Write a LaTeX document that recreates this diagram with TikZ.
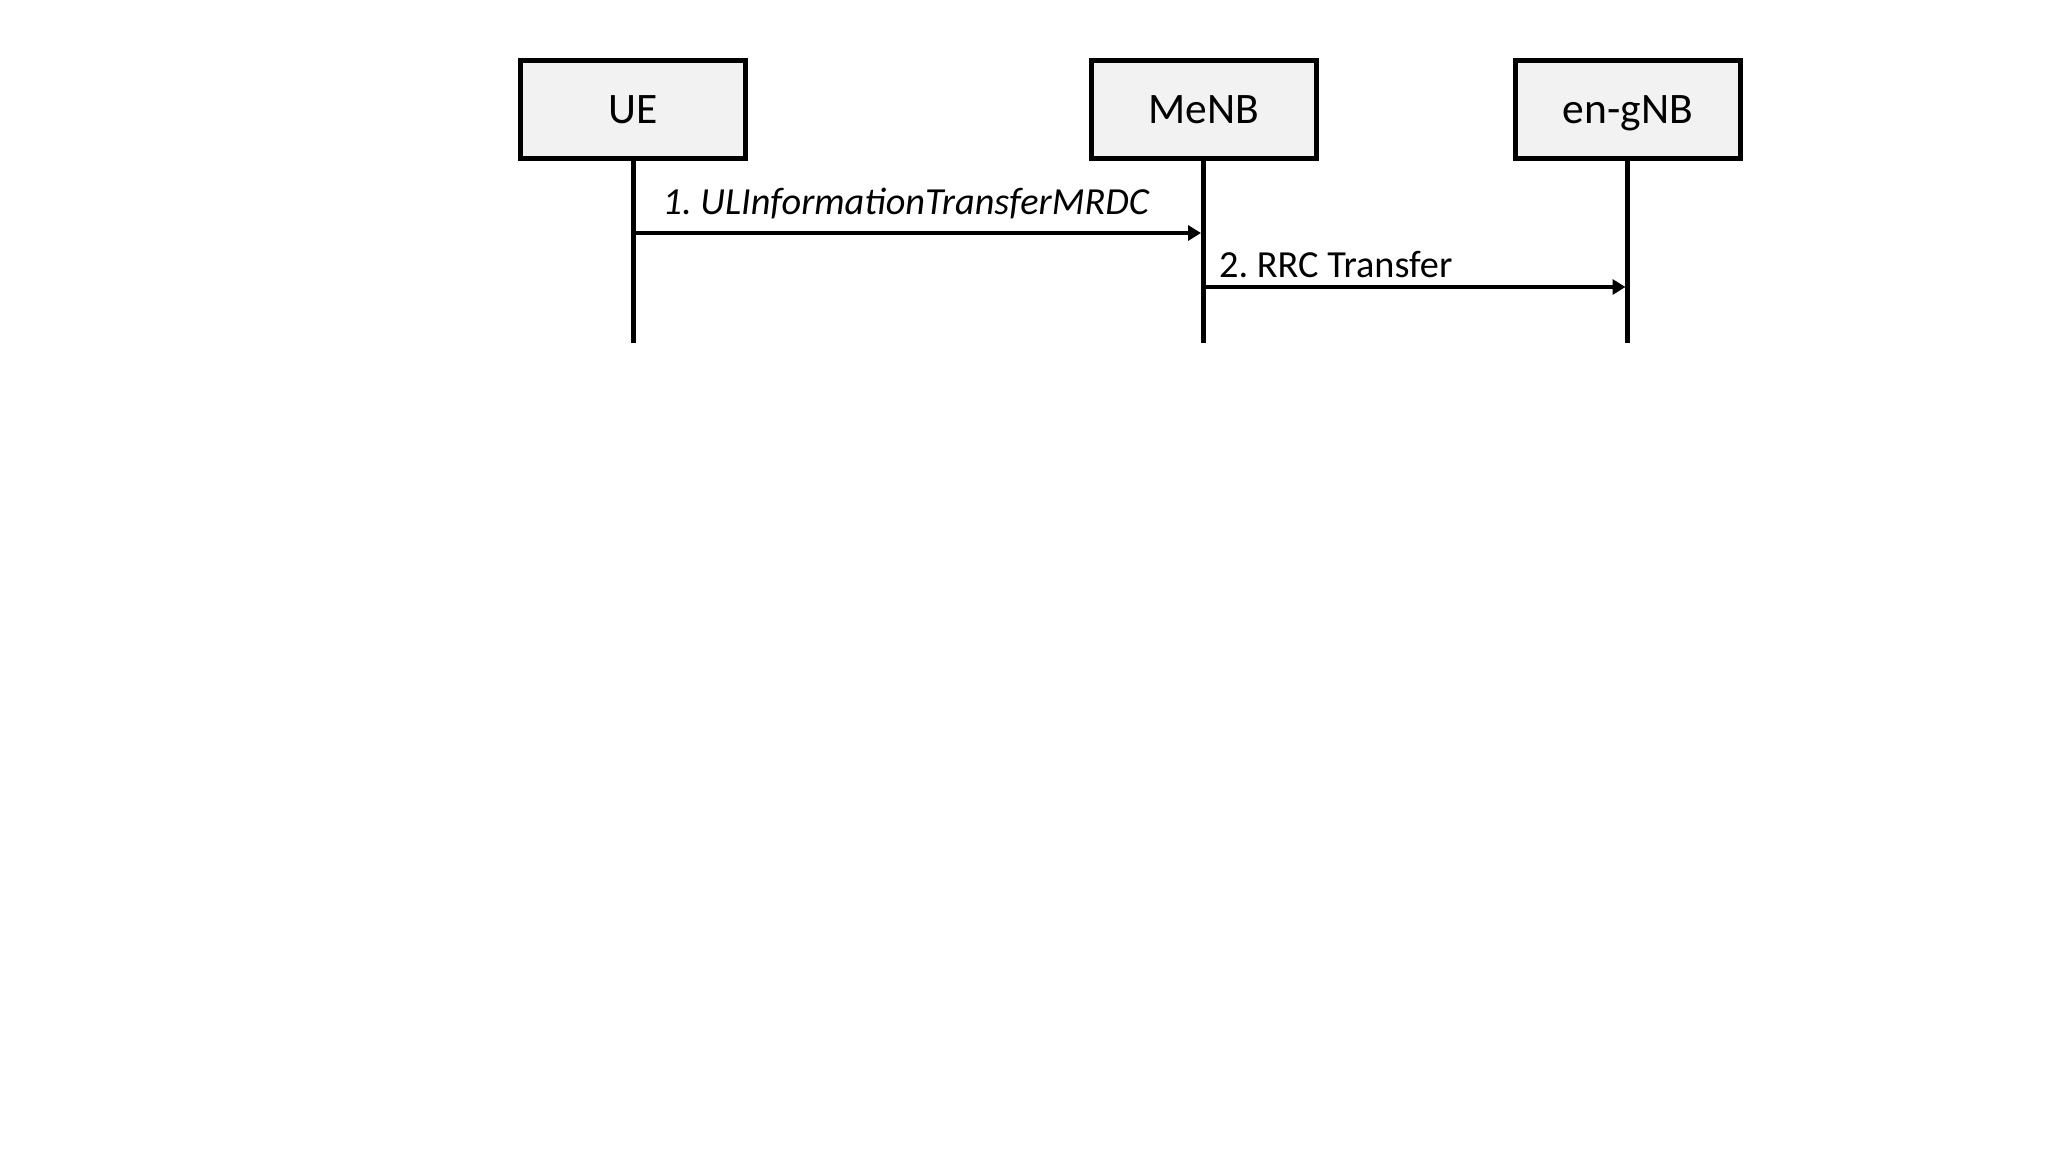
\documentclass[tikz,border=0pt]{standalone}
\usepackage{fontspec}
\setmainfont{Carlito}
\usetikzlibrary{arrows.meta}
\definecolor{boxfill}{HTML}{F2F2F2}
\tikzset{
  entity/.style={draw=black, fill=boxfill, line width=5bp, minimum width=225bp, minimum height=98bp,
    inner sep=0pt, font=\fontsize{43.5bp}{52bp}\selectfont, text height=28bp, text depth=0pt},
  lifeline/.style={line width=5bp},
  msg/.style={line width=4bp, -{Triangle[length=13bp,width=15bp]}},
  msglabel/.style={anchor=base west, inner sep=0pt, font=\fontsize{38.3bp}{46bp}\selectfont}
}
\frenchspacing
\begin{document}
\begin{tikzpicture}[x=1bp,y=-1bp]
\useasboundingbox (0,0) rectangle (2048,1153);
\node[entity] (ue) at (633,109.5) {UE};
\node[entity] (menb) at (1203.5,109.5) {MeNB};
\node[entity] (gnb) at (1627.7,109.5) {en-gNB};
\coordinate (ueend) at (633,343);
\coordinate (menbend) at (1203.5,343);
\coordinate (gnbend) at (1627.7,343);
\draw[lifeline] (ue.south) -- (ueend);
\draw[lifeline] (menb.south) -- (menbend);
\draw[lifeline] (gnb.south) -- (gnbend);
\coordinate (m1s) at (633,233);
\coordinate (m1e) at (1201,233);
\coordinate (m2s) at (1203.5,287);
\coordinate (m2e) at (1625.5,287);
\draw[msg] (m1s) -- (m1e);
\draw[msg] (m2s) -- (m2e);
\node[msglabel] (l1) at (662.5,214.3) {\frenchspacing\itshape 1. ULInformationTransferMRDC};
\node[msglabel] (l2) at (1219,277.7) {\frenchspacing 2. RRC Transfer};
\end{tikzpicture}
\end{document}
